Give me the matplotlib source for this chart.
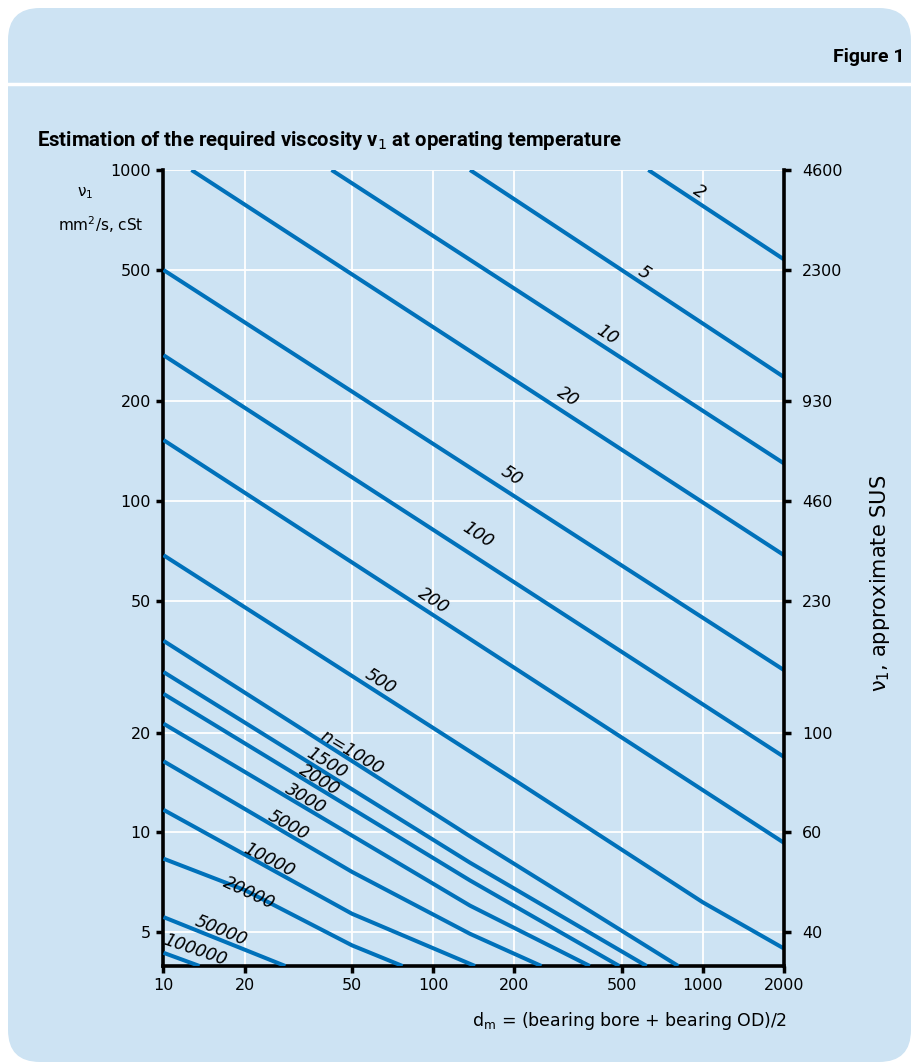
import matplotlib
matplotlib.use("Agg")
import matplotlib.pyplot as plt
import numpy as np
from matplotlib.patches import FancyBboxPatch
from matplotlib.lines import Line2D
from matplotlib.transforms import IdentityTransform

# ---- data (d_m in mm, viscosity in mm2/s) ----
speeds = ['2', '5', '10', '20', '50', '100', '200', '500', '1000', '1500',
          '2000', '3000', '5000', '10000', '20000', '50000', '100000']

curve_x = {
    '2': [628, 2000],
    '5': [137, 2000],
    '10': [42, 2000],
    '20': [12.7, 2000],
    '50': [10, 2000],
    '100': [10, 2000],
    '200': [10, 2000],
    '500': [10, 200, 1000, 2000],
    '1000': [10, 137, 811],
    '1500': [10, 137, 619],
    '2000': [10, 137, 490],
    '3000': [10, 137, 381],
    '5000': [10, 50, 137, 252],
    '10000': [10, 50, 143],
    '20000': [10, 20, 50, 77],
    '50000': [10, 28.3],
    '100000': [10, 13.6],
}
curve_y = {
    '2': [1000, 537],
    '5': [1000, 237],
    '10': [1000, 130],
    '20': [1000, 68.7],
    '50': [499, 30.9],
    '100': [276, 16.9],
    '200': [153, 9.3],
    '500': [68.7, 14.4, 6.15, 4.46],
    '1000': [37.9, 9.73, 3.95],
    '1500': [30.5, 8.1, 3.95],
    '2000': [26.2, 7.16, 3.95],
    '3000': [21.3, 6.01, 3.95],
    '5000': [16.4, 7.6, 4.94, 3.95],
    '10000': [11.7, 5.68, 3.95],
    '20000': [8.33, 6.7, 4.56, 3.95],
    '50000': [5.55, 3.95],
    '100000': [4.33, 3.95],
}

# label text, position and angle
label_text = {s: s for s in speeds}
label_text['1000'] = '$n$=1000'
label_pos = {
    '2': (970, 860), '5': (605, 488), '10': (440, 317), '20': (315, 206.6),
    '50': (196, 119), '100': (146.6, 78.9), '200': (100.7, 50.2),
    '500': (63.5, 28.5), '1000': (49.9, 17.5), '1500': (40.3, 16.2),
    '2000': (38, 14.4), '3000': (33.5, 12.6), '5000': (29, 10.5),
    '10000': (24.7, 8.26), '20000': (20.8, 6.56), '50000': (16.3, 5.06),
    '100000': (13.1, 4.40),
}
label_rot = {
    '2': -33, '5': -33, '10': -33, '20': -33, '50': -33, '100': -33,
    '200': -33, '500': -32, '1000': -31, '1500': -31, '2000': -31,
    '3000': -30, '5000': -29, '10000': -27, '20000': -25, '50000': -22,
    '100000': -19,
}

x_ticks = [10, 20, 50, 100, 200, 500, 1000, 2000]
y_ticks = [5, 10, 20, 50, 100, 200, 500, 1000]
sus_labels = ['40', '60', '100', '230', '460', '930', '2300', '4600']

BLUE = '#0071BA'
PANEL = '#CDE3F3'

W, H = 912, 1063
fig = plt.figure(figsize=(W / 100, H / 100), dpi=100)
fig.patch.set_facecolor('white')

# rounded panel and header separator (pixel coordinates)
panel = FancyBboxPatch((8, 1), 903, 1054, boxstyle='round,pad=0,rounding_size=32',
                       transform=IdentityTransform(), facecolor=PANEL,
                       edgecolor='none', zorder=-10)
fig.patches.append(panel)
fig.add_artist(Line2D([8, 912], [H - 84, H - 84], transform=IdentityTransform(),
                      color='white', lw=2.5, zorder=-9))

fig.text(905 / W, 1 - 57 / H, 'Figure 1', ha='right', va='center', fontsize=14,
         fontweight='bold', family=['Roboto', 'DejaVu Sans'])
fig.text(37 / W, 1 - 141 / H, 'Estimation of the required viscosity ν$_1$ at operating temperature',
         ha='left', va='center', fontsize=14.7, fontweight='bold',
         family=['Roboto', 'DejaVu Sans'])

ax = fig.add_axes([163.5 / W, (H - 966) / H, (784 - 163.5) / W, (966 - 170) / H])
ax.set_facecolor('none')
ax.set_xscale('log')
ax.set_yscale('log')
ax.set_xlim(10, 2000)
ax.set_ylim(3.95, 1000)

ax.set_xticks(x_ticks)
ax.set_xticklabels([str(t) for t in x_ticks])
ax.set_yticks(y_ticks)
ax.set_yticklabels([str(t) for t in y_ticks])
ax.minorticks_off()
ax.grid(True, color='white', lw=1.3, zorder=1)
ax.tick_params(direction='out', length=5, width=2.5, labelsize=11.5, pad=4)

for sp in ['top', 'right']:
    ax.spines[sp].set_visible(False)
for sp in ['left', 'bottom']:
    ax.spines[sp].set_linewidth(2.6)

for s in speeds:
    ax.plot(curve_x[s], curve_y[s], color=BLUE, lw=2.9, solid_capstyle='butt',
            solid_joinstyle='round', zorder=3, clip_on=True)
    lx, ly = label_pos[s]
    ax.text(lx, ly, label_text[s], rotation=label_rot[s], rotation_mode='anchor',
            ha='center', va='center', fontsize=12.5, style='italic', zorder=4)

ax2 = ax.twinx()
ax2.set_yscale('log')
ax2.set_ylim(3.95, 1000)
ax2.set_yticks(y_ticks)
ax2.set_yticklabels(sus_labels)
ax2.minorticks_off()
ax2.tick_params(direction='out', length=5, width=2.5, labelsize=11.5, pad=8)
for sp in ['top', 'left', 'bottom']:
    ax2.spines[sp].set_visible(False)
ax2.spines['right'].set_linewidth(2.6)

# axis titles
fig.text(85 / W, 1 - 193 / H, 'ν$_1$', ha='center', va='center', fontsize=11)
fig.text(101 / W, 1 - 225 / H, 'mm$^2$/s, cSt', ha='center', va='center', fontsize=11)
fig.text(787 / W, 1 - 1021 / H, 'd$_{\\rm m}$ = (bearing bore + bearing OD)/2',
         ha='right', va='center', fontsize=12.5)
fig.text(880 / W, 1 - 583 / H, 'ν$_1$, approximate SUS', ha='center', va='center',
         rotation=90, fontsize=15)

fig.savefig('out.png', dpi=100)
